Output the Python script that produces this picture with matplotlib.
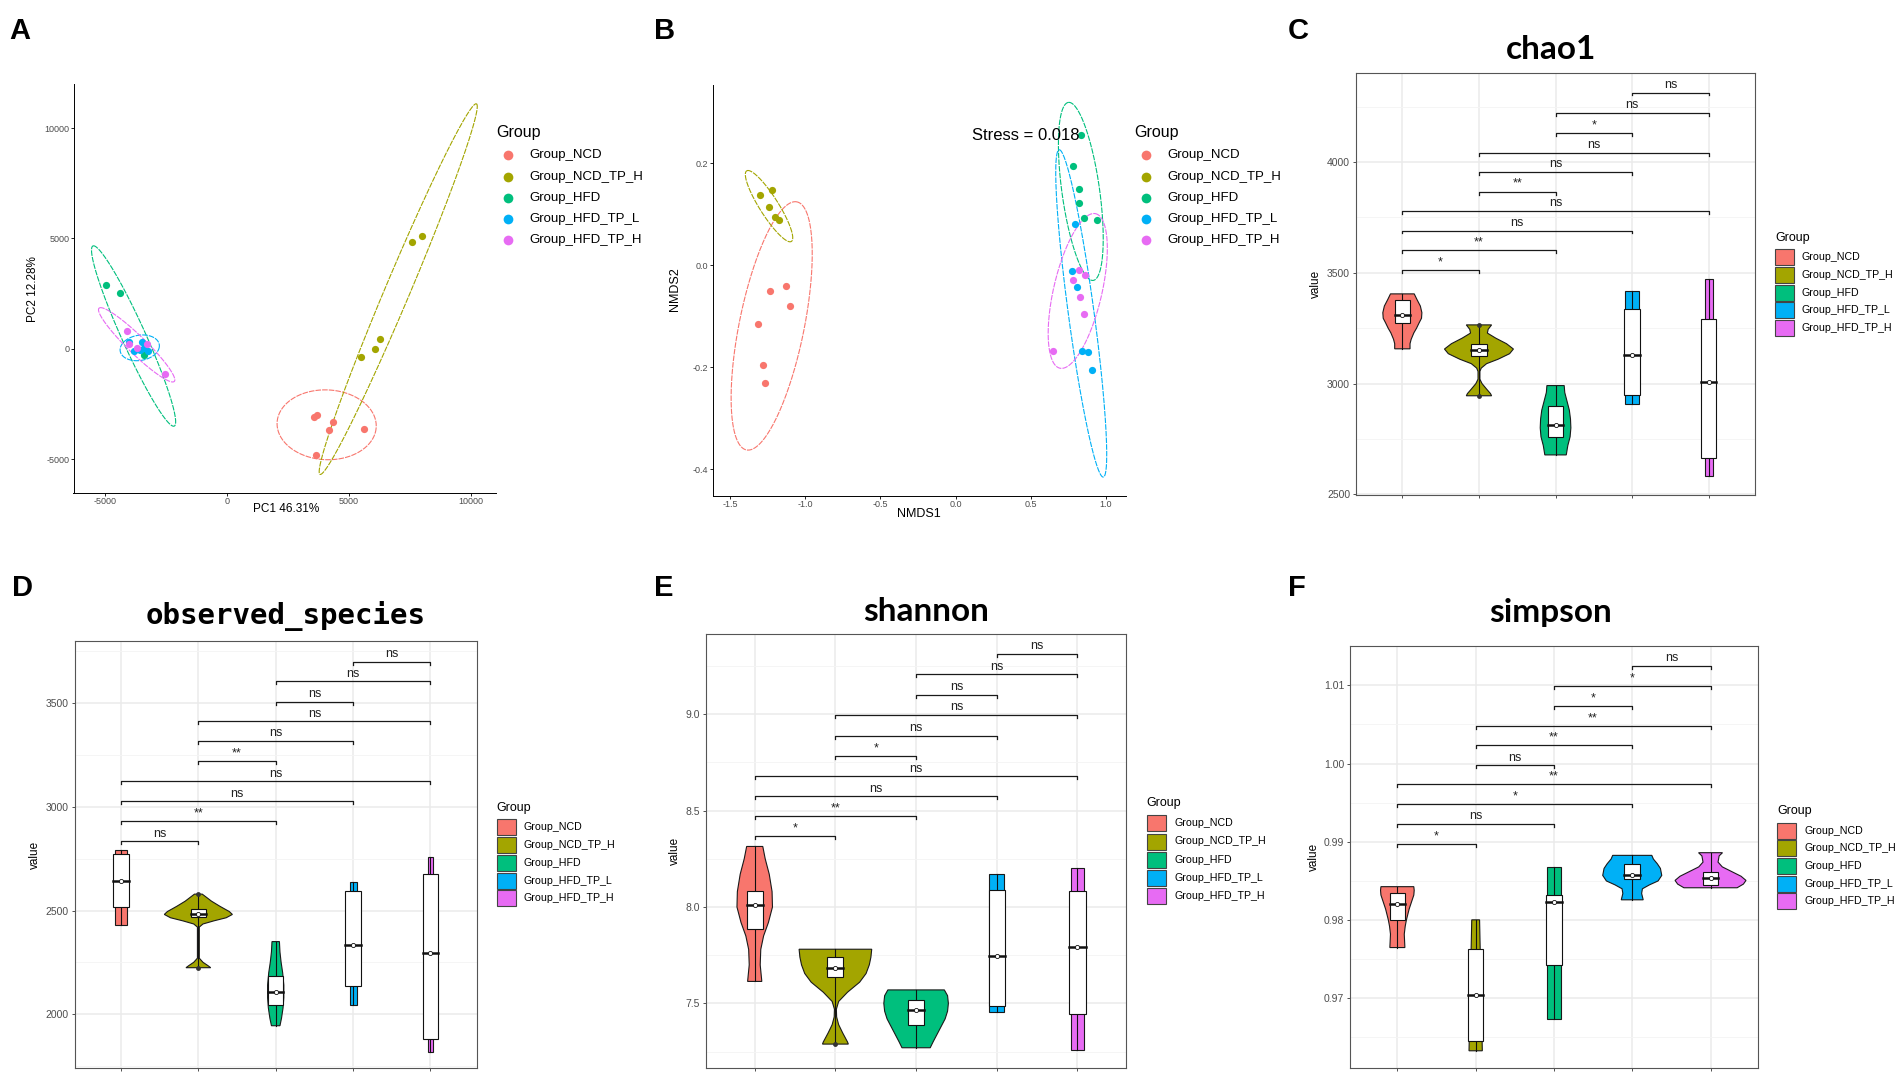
import numpy as np
import matplotlib.pyplot as plt
from matplotlib.patches import Rectangle
from matplotlib.lines import Line2D

plt.rcParams['font.family'] = ['Liberation Sans', 'DejaVu Sans']
plt.rcParams['axes.unicode_minus'] = False

W, H = 1904, 1075

groups = ['Group_NCD', 'Group_NCD_TP_H', 'Group_HFD', 'Group_HFD_TP_L', 'Group_HFD_TP_H']
colors = ['#F8766D', '#A3A500', '#00BF7D', '#00B0F6', '#E76BF3']

# ---- PCA (panel A) points, per group
pca_x = [[3574, 3708, 4346, 4178, 5621, 3658],
         [7601, 7987, 6292, 6057, 5520],
         [-4950, -4396, -3406],
         [-4010, -3473, -3809, -3557, -3389, -3221],
         [-4111, -4010, -3272, -2550, -3674]]
pca_y = [[-3089, -2997, -3318, -3654, -3609, -4801],
         [4862, 5122, 459, 15, -352],
         [2905, 2538, -290],
         [321, 321, -76, -30, 46, -76],
         [810, 229, 229, -1131, 46]]
# ellipses: centre, semi-axis a, semi-axis b (data units)
pca_ell_c = [(4094, -3440), (7030, 2706), (-3826, 581), (-3574, 46), (-3700, 183)]
pca_ell_a = [(2030, -153), (3205, 8394), (-1661, 4083), (805, 60), (-1535, 1667)]
pca_ell_b = [(-134, -1575), (494, -156), (470, 160), (-40, -581), (309, 236)]

# ---- NMDS (panel B) points
nmds_x = [[-1.128, -1.234, -1.098, -1.310, -1.277, -1.269],
          [-1.299, -1.220, -1.242, -1.201, -1.174],
          [0.833, 0.784, 0.819, 0.819, 0.854, 0.941],
          [0.795, 0.773, 0.806, 0.838, 0.881, 0.909],
          [0.819, 0.860, 0.778, 0.824, 0.852, 0.648]]
nmds_y = [[-0.040, -0.050, -0.080, -0.116, -0.195, -0.232],
          [0.138, 0.147, 0.114, 0.094, 0.0895],
          [0.255, 0.194, 0.150, 0.123, 0.093, 0.088],
          [0.081, -0.011, -0.043, -0.169, -0.170, -0.205],
          [-0.009, -0.020, -0.029, -0.062, -0.095, -0.168]]
nmds_ell_c = [(-1.222, -0.119), (-1.2395, 0.116), (0.8327, 0.1449), (0.8354, -0.0945), (0.8123, -0.0504)]
nmds_ell_a = [(0.164, 0.2436), (-0.1465, 0.0696), (-0.0814, 0.1747), (-0.1465, 0.3212), (0.1153, 0.1518)]
nmds_ell_b = [(0.214, -0.0086), (0.058, 0.0073), (0.1248, 0.0035), (0.0852, 0.0023), (0.1592, -0.0072)]

# ---- alpha diversity: violin outlines (value, half width), boxes (q1, median, q3), outliers
chao1_prof = [
    [(3405, .155), (3380, .19), (3350, .235), (3320, .255), (3295, .25), (3275, .22), (3250, .185),
     (3229, .15), (3200, .115), (3180, .10), (3157, .10)],
    [(3265, .165), (3245, .12), (3228, .11), (3205, .22), (3180, .36), (3156, .45), (3135, .40),
     (3110, .25), (3090, .10), (3070, .03), (3055, .012), (3020, .012), (3000, .04), (2975, .10),
     (2955, .15), (2945, .165)],
    [(2991, .113), (2960, .12), (2920, .15), (2880, .18), (2840, .195), (2800, .20), (2760, .19),
     (2720, .16), (2678, .14)],
    [(3418, .09), (2907, .09)],
    [(3471, .052), (2581, .052)]]
chao1_box = [(3273, 3308, 3378), (3126, 3153, 3180), (2761, 2811, 2900), (2947, 3131, 3337), (2666, 3009, 3291)]
chao1_out = [[], [3265, 2945], [], [], []]
chao1_sig = ['*', '**', 'ns', 'ns', '**', 'ns', 'ns', '*', 'ns', 'ns']
chao1_lev = [3512, 3601, 3691, 3779, 3867, 3956, 4043, 4133, 4223, 4314]

obs_prof = [
    [(2792, .075), (2432, .075)],
    [(2579, .05), (2565, .10), (2545, .17), (2520, .28), (2495, .40), (2481, .44), (2465, .36),
     (2450, .20), (2435, .06), (2420, .012), (2270, .012), (2250, .06), (2235, .12), (2224, .16)],
    [(2350, .048), (2300, .055), (2250, .07), (2200, .09), (2140, .105), (2080, .105), (2030, .095),
     (1980, .075), (1944, .055)],
    [(2636, .045), (2042, .045)],
    [(2756, .035), (1818, .035)]]
obs_box = [(2517, 2641, 2775), (2468, 2484, 2505), (2042, 2108, 2182), (2137, 2334, 2595), (1879, 2296, 2677)]
obs_out = [[], [2579, 2224], [], [], []]
obs_sig = ['ns', '**', 'ns', 'ns', '**', 'ns', 'ns', 'ns', 'ns', 'ns']
obs_lev = [2833, 2931, 3026, 3124, 3222, 3318, 3413, 3508, 3606, 3699]

shan_prof = [
    [(8.314, .10), (8.25, .13), (8.17, .18), (8.08, .215), (8.00, .22), (7.92, .17), (7.85, .11),
     (7.78, .075), (7.70, .068), (7.614, .088)],
    [(7.781, .45), (7.74, .44), (7.70, .42), (7.655, .38), (7.61, .30), (7.558, .15), (7.51, .04),
     (7.47, .012), (7.43, .015), (7.39, .04), (7.347, .09), (7.30, .15), (7.289, .16)],
    [(7.570, .35), (7.54, .39), (7.50, .40), (7.46, .39), (7.42, .36), (7.38, .31), (7.34, .26),
     (7.30, .21), (7.27, .175)],
    [(8.17, .095), (7.458, .095)],
    [(8.20, .083), (7.256, .083)]]
shan_box = [(7.887, 8.01, 8.082), (7.637, 7.685, 7.743), (7.389, 7.465, 7.519), (7.484, 7.748, 8.089),
            (7.444, 7.79, 8.082)]
shan_out = [[], [7.289], [], [], []]
shan_sig = ['*', '**', 'ns', 'ns', '*', 'ns', 'ns', 'ns', 'ns', 'ns']
shan_lev = [8.367, 8.472, 8.574, 8.678, 8.785, 8.889, 8.995, 9.102, 9.207, 9.313]

simp_prof = [
    [(0.98427, .21), (0.9838, .215), (0.9832, .21), (0.9826, .19), (0.9820, .17), (0.9814, .15),
     (0.9808, .135), (0.9800, .115), (0.9792, .10), (0.9782, .088), (0.97649, .096)],
    [(0.98003, .05), (0.9633, .085)],
    [(0.98677, .09), (0.96741, .09)],
    [(0.98827, .25), (0.9878, .27), (0.9872, .32), (0.9866, .36), (0.98571, .377), (0.9850, .33),
     (0.9845, .22), (0.9840, .13), (0.9834, .12), (0.98259, .14)],
    [(0.98861, .153), (0.9882, .11), (0.98741, .096), (0.9868, .15), (0.9862, .27), (0.9856, .39),
     (0.98507, .453), (0.9846, .42), (0.98413, .34)]]
simp_box = [(0.97995, 0.98202, 0.98341), (0.96451, 0.97043, 0.97636), (0.97432, 0.98229, 0.98324),
            (0.98529, 0.98576, 0.98721), (0.98443, 0.98536, 0.98614)]
simp_out = [[], [], [], [], []]
simp_sig = ['*', 'ns', '*', '**', 'ns', '**', '**', '*', '*', 'ns']
simp_lev = [0.98976, 0.99227, 0.99482, 0.99733, 0.99979, 1.00235, 1.00481, 1.0074, 1.00991, 1.01251]

pairs = [(1, 2), (1, 3), (1, 4), (1, 5), (2, 3), (2, 4), (2, 5), (3, 4), (3, 5), (4, 5)]

TICK_GRAY = '#4D4D4D'


def rect(l, t, r, b):
    return [l / W, 1 - b / H, (r - l) / W, (b - t) / H]


def ftext(fig, x, y, s, **kw):
    fig.text(x / W, 1 - y / H, s, **kw)


def draw_ellipse(ax, c, a, b, color):
    t = np.linspace(0, 2 * np.pi, 240)
    xs = c[0] + a[0] * np.cos(t) + b[0] * np.sin(t)
    ys = c[1] + a[1] * np.cos(t) + b[1] * np.sin(t)
    ax.plot(xs, ys, color=color, lw=0.8, ls=(0, (5, 1)), zorder=2)


def scatter_panel(ax, xs, ys, ec, ea, eb, xlim, ylim, xticks, yticks, xfmt, yfmt):
    for k in range(5):
        draw_ellipse(ax, ec[k], ea[k], eb[k], colors[k])
        ax.plot(xs[k], ys[k], 'o', ms=5.2, color=colors[k], mec='none', zorder=3)
    ax.set_xlim(*xlim)
    ax.set_ylim(*ylim)
    ax.set_xticks(xticks)
    ax.set_xticklabels([xfmt(v) for v in xticks])
    ax.set_yticks(yticks)
    ax.set_yticklabels([yfmt(v) for v in yticks])
    for s in ['top', 'right']:
        ax.spines[s].set_visible(False)
    for s in ['left', 'bottom']:
        ax.spines[s].set_linewidth(0.7)
    ax.tick_params(length=2, width=0.6, pad=1, labelsize=6.5, labelcolor=TICK_GRAY)


def scatter_legend(fig, xt, xm, xl, yt, ys):
    ftext(fig, xt, yt, 'Group', fontsize=11.5, va='center', ha='left')
    for k in range(5):
        fig.add_artist(Line2D([xm / W], [1 - ys[k] / H], marker='o', ms=7, color=colors[k],
                              mec='none', transform=fig.transFigure))
        ftext(fig, xl, ys[k], groups[k], fontsize=9.5, va='center', ha='left')


def violin_panel(ax, prof, box, outl, sig, lev, ylim, major, minor, fmt):
    for k in range(5):
        pos = k + 1
        v = np.array([p[0] for p in prof[k]])
        w = np.array([p[1] for p in prof[k]])
        ax.fill(np.concatenate([pos - w, (pos + w)[::-1]]), np.concatenate([v, v[::-1]]),
                facecolor=colors[k], edgecolor='#1a1a1a', lw=0.8, zorder=2)
        q1, med, q3 = box[k]
        ax.plot([pos, pos], [v.min(), q1], color='#111111', lw=0.8, zorder=3)
        ax.plot([pos, pos], [q3, v.max()], color='#111111', lw=0.8, zorder=3)
        ax.add_patch(Rectangle((pos - 0.1, q1), 0.2, q3 - q1, facecolor='white',
                               edgecolor='#111111', lw=0.8, zorder=3))
        ax.plot([pos - 0.1, pos + 0.1], [med, med], color='#111111', lw=1.8, zorder=4)
        ax.plot(pos, med, 'o', ms=3, mfc='white', mec='#111111', mew=0.6, zorder=5)
        for o in outl[k]:
            ax.plot(pos, o, 'o', ms=3.5, color='#333333', mec='none', zorder=5)
    tick = 0.007 * (ylim[1] - ylim[0])
    for (i, j), y, lab in zip(pairs, lev, sig):
        ax.plot([i, i, j, j], [y - tick, y, y, y - tick], color='#1a1a1a', lw=0.9, zorder=3)
        ax.annotate(lab, xy=((i + j) / 2, y), xytext=(0, 1.2), textcoords='offset points',
                    ha='center', va='bottom', fontsize=9, color='#222222')
    ax.set_xlim(0.4, 5.6)
    ax.set_ylim(*ylim)
    ax.set_xticks(range(1, 6))
    ax.set_xticklabels([])
    ax.set_yticks(major)
    ax.set_yticklabels([fmt(v) for v in major])
    ax.set_yticks(minor, minor=True)
    ax.tick_params(which='minor', length=0)
    ax.tick_params(which='major', length=2.5, width=0.6, color='#333333', pad=2,
                   labelsize=7.5, labelcolor=TICK_GRAY)
    ax.grid(which='major', color='#EBEBEB', lw=1.1, zorder=0)
    ax.grid(which='minor', axis='y', color='#F4F4F4', lw=0.6, zorder=0)
    ax.set_axisbelow(True)
    for s in ax.spines.values():
        s.set_color('#555555')
        s.set_linewidth(0.8)


def box_legend(fig, xt, yt, xk, y0, dy, xl):
    ftext(fig, xt, yt, 'Group', fontsize=9, va='center', ha='left')
    for k in range(5):
        yc = y0 + k * dy
        fig.add_artist(Rectangle((xk / W, 1 - (yc + 8) / H), 19 / W, 16 / H, facecolor=colors[k],
                                 edgecolor='#444444', lw=0.8, transform=fig.transFigure))
        ftext(fig, xl, yc, groups[k], fontsize=7.7, va='center', ha='left')


fig = plt.figure(figsize=(W / 100, H / 100), dpi=100)

# ---- A: PCA
axA = fig.add_axes(rect(73.5, 84.5, 496, 493))
scatter_panel(axA, pca_x, pca_y, pca_ell_c, pca_ell_a, pca_ell_b, (-6291, 11041), (-6529, 11973),
              [-5000, 0, 5000, 10000], [-5000, 0, 5000, 10000], lambda v: f'{v:d}', lambda v: f'{v:d}')
ftext(fig, 286, 509, 'PC1 46.31%', fontsize=8.5, ha='center', va='center')
ftext(fig, 33, 289, 'PC2 12.28%', fontsize=8.5, ha='center', va='center', rotation=90)
scatter_legend(fig, 496, 508, 529.5, 132, [155.4, 176.7, 198, 219, 240.2])

# ---- B: NMDS
axB = fig.add_axes(rect(712.7, 84.5, 1125.7, 496))
scatter_panel(axB, nmds_x, nmds_y, nmds_ell_c, nmds_ell_a, nmds_ell_b, (-1.614, 1.131), (-0.4528, 0.3547),
              [-1.5, -1.0, -0.5, 0.0, 0.5, 1.0], [-0.4, -0.2, 0.0, 0.2],
              lambda v: f'{v:.1f}', lambda v: f'{v:.1f}')
axB.text(0.4665, 0.2552, 'Stress = 0.018', fontsize=12, ha='center', va='center', zorder=4)
ftext(fig, 919, 514, 'NMDS1', fontsize=9, ha='center', va='center')
ftext(fig, 675, 289, 'NMDS2', fontsize=9, ha='center', va='center', rotation=90)
scatter_legend(fig, 1134, 1146, 1167.7, 132, [155.4, 176.7, 198, 219, 240.2])

# ---- C: chao1
axC = fig.add_axes(rect(1356.4, 72.6, 1754.7, 495))
violin_panel(axC, chao1_prof, chao1_box, chao1_out, chao1_sig, chao1_lev, (2497, 4404),
             [2500, 3000, 3500, 4000], [2750, 3250, 3750, 4250], lambda v: f'{v:d}')
ftext(fig, 1316, 284, 'value', fontsize=8.5, ha='center', va='center', rotation=90)
ftext(fig, 1551, 59, 'chao1', fontsize=24, fontweight='bold', family=['Lato', 'DejaVu Sans'],
      ha='center', va='baseline')
box_legend(fig, 1775.5, 238, 1775.4, 257.4, 17.6, 1802)

# ---- D: observed_species
axD = fig.add_axes(rect(74.6, 641.3, 476.8, 1068))
violin_panel(axD, obs_prof, obs_box, obs_out, obs_sig, obs_lev, (1740, 3799),
             [2000, 2500, 3000, 3500], [1750, 2250, 2750, 3250, 3750], lambda v: f'{v:d}')
ftext(fig, 35, 855, 'value', fontsize=8.5, ha='center', va='center', rotation=90)
ftext(fig, 286, 624, 'observed_species', fontsize=21, fontweight='bold',
      family=['DejaVu Sans Mono', 'DejaVu Sans'], ha='center', va='baseline')
box_legend(fig, 496.7, 808, 496.7, 827.4, 17.7, 523.6)

# ---- E: shannon
axE = fig.add_axes(rect(706.3, 633.5, 1125.9, 1068))
violin_panel(axE, shan_prof, shan_box, shan_out, shan_sig, shan_lev, (7.165, 9.4185),
             [7.5, 8.0, 8.5, 9.0], [7.25, 7.75, 8.25, 8.75, 9.25], lambda v: f'{v:.1f}')
ftext(fig, 675, 851, 'value', fontsize=8.5, ha='center', va='center', rotation=90)
ftext(fig, 926, 621, 'shannon', fontsize=24, fontweight='bold', family=['Lato', 'DejaVu Sans'],
      ha='center', va='baseline')
box_legend(fig, 1146.6, 803.4, 1146.6, 823.4, 18.1, 1174.8)

# ---- F: simpson
axF = fig.add_axes(rect(1350.4, 646.4, 1757.5, 1068))
violin_panel(axF, simp_prof, simp_box, simp_out, simp_sig, simp_lev, (0.9611, 1.01497),
             [0.97, 0.98, 0.99, 1.00, 1.01], [0.965, 0.975, 0.985, 0.995, 1.005], lambda v: f'{v:.2f}')
ftext(fig, 1314, 857, 'value', fontsize=8.5, ha='center', va='center', rotation=90)
ftext(fig, 1551, 622, 'simpson', fontsize=24, fontweight='bold', family=['Lato', 'DejaVu Sans'],
      ha='center', va='baseline')
box_legend(fig, 1777.4, 811.2, 1777.4, 830.8, 17.6, 1804.5)

# ---- panel letters
for lab, x, y in [('A', 9, 39.2), ('B', 654, 39.2), ('C', 1288, 39.2),
                  ('D', 11.6, 596.4), ('E', 654.5, 596.4), ('F', 1288, 596.4)]:
    ftext(fig, x, y, lab, fontsize=21, fontweight='bold', ha='left', va='baseline')

fig.savefig('out.png', dpi=100, facecolor='white')
